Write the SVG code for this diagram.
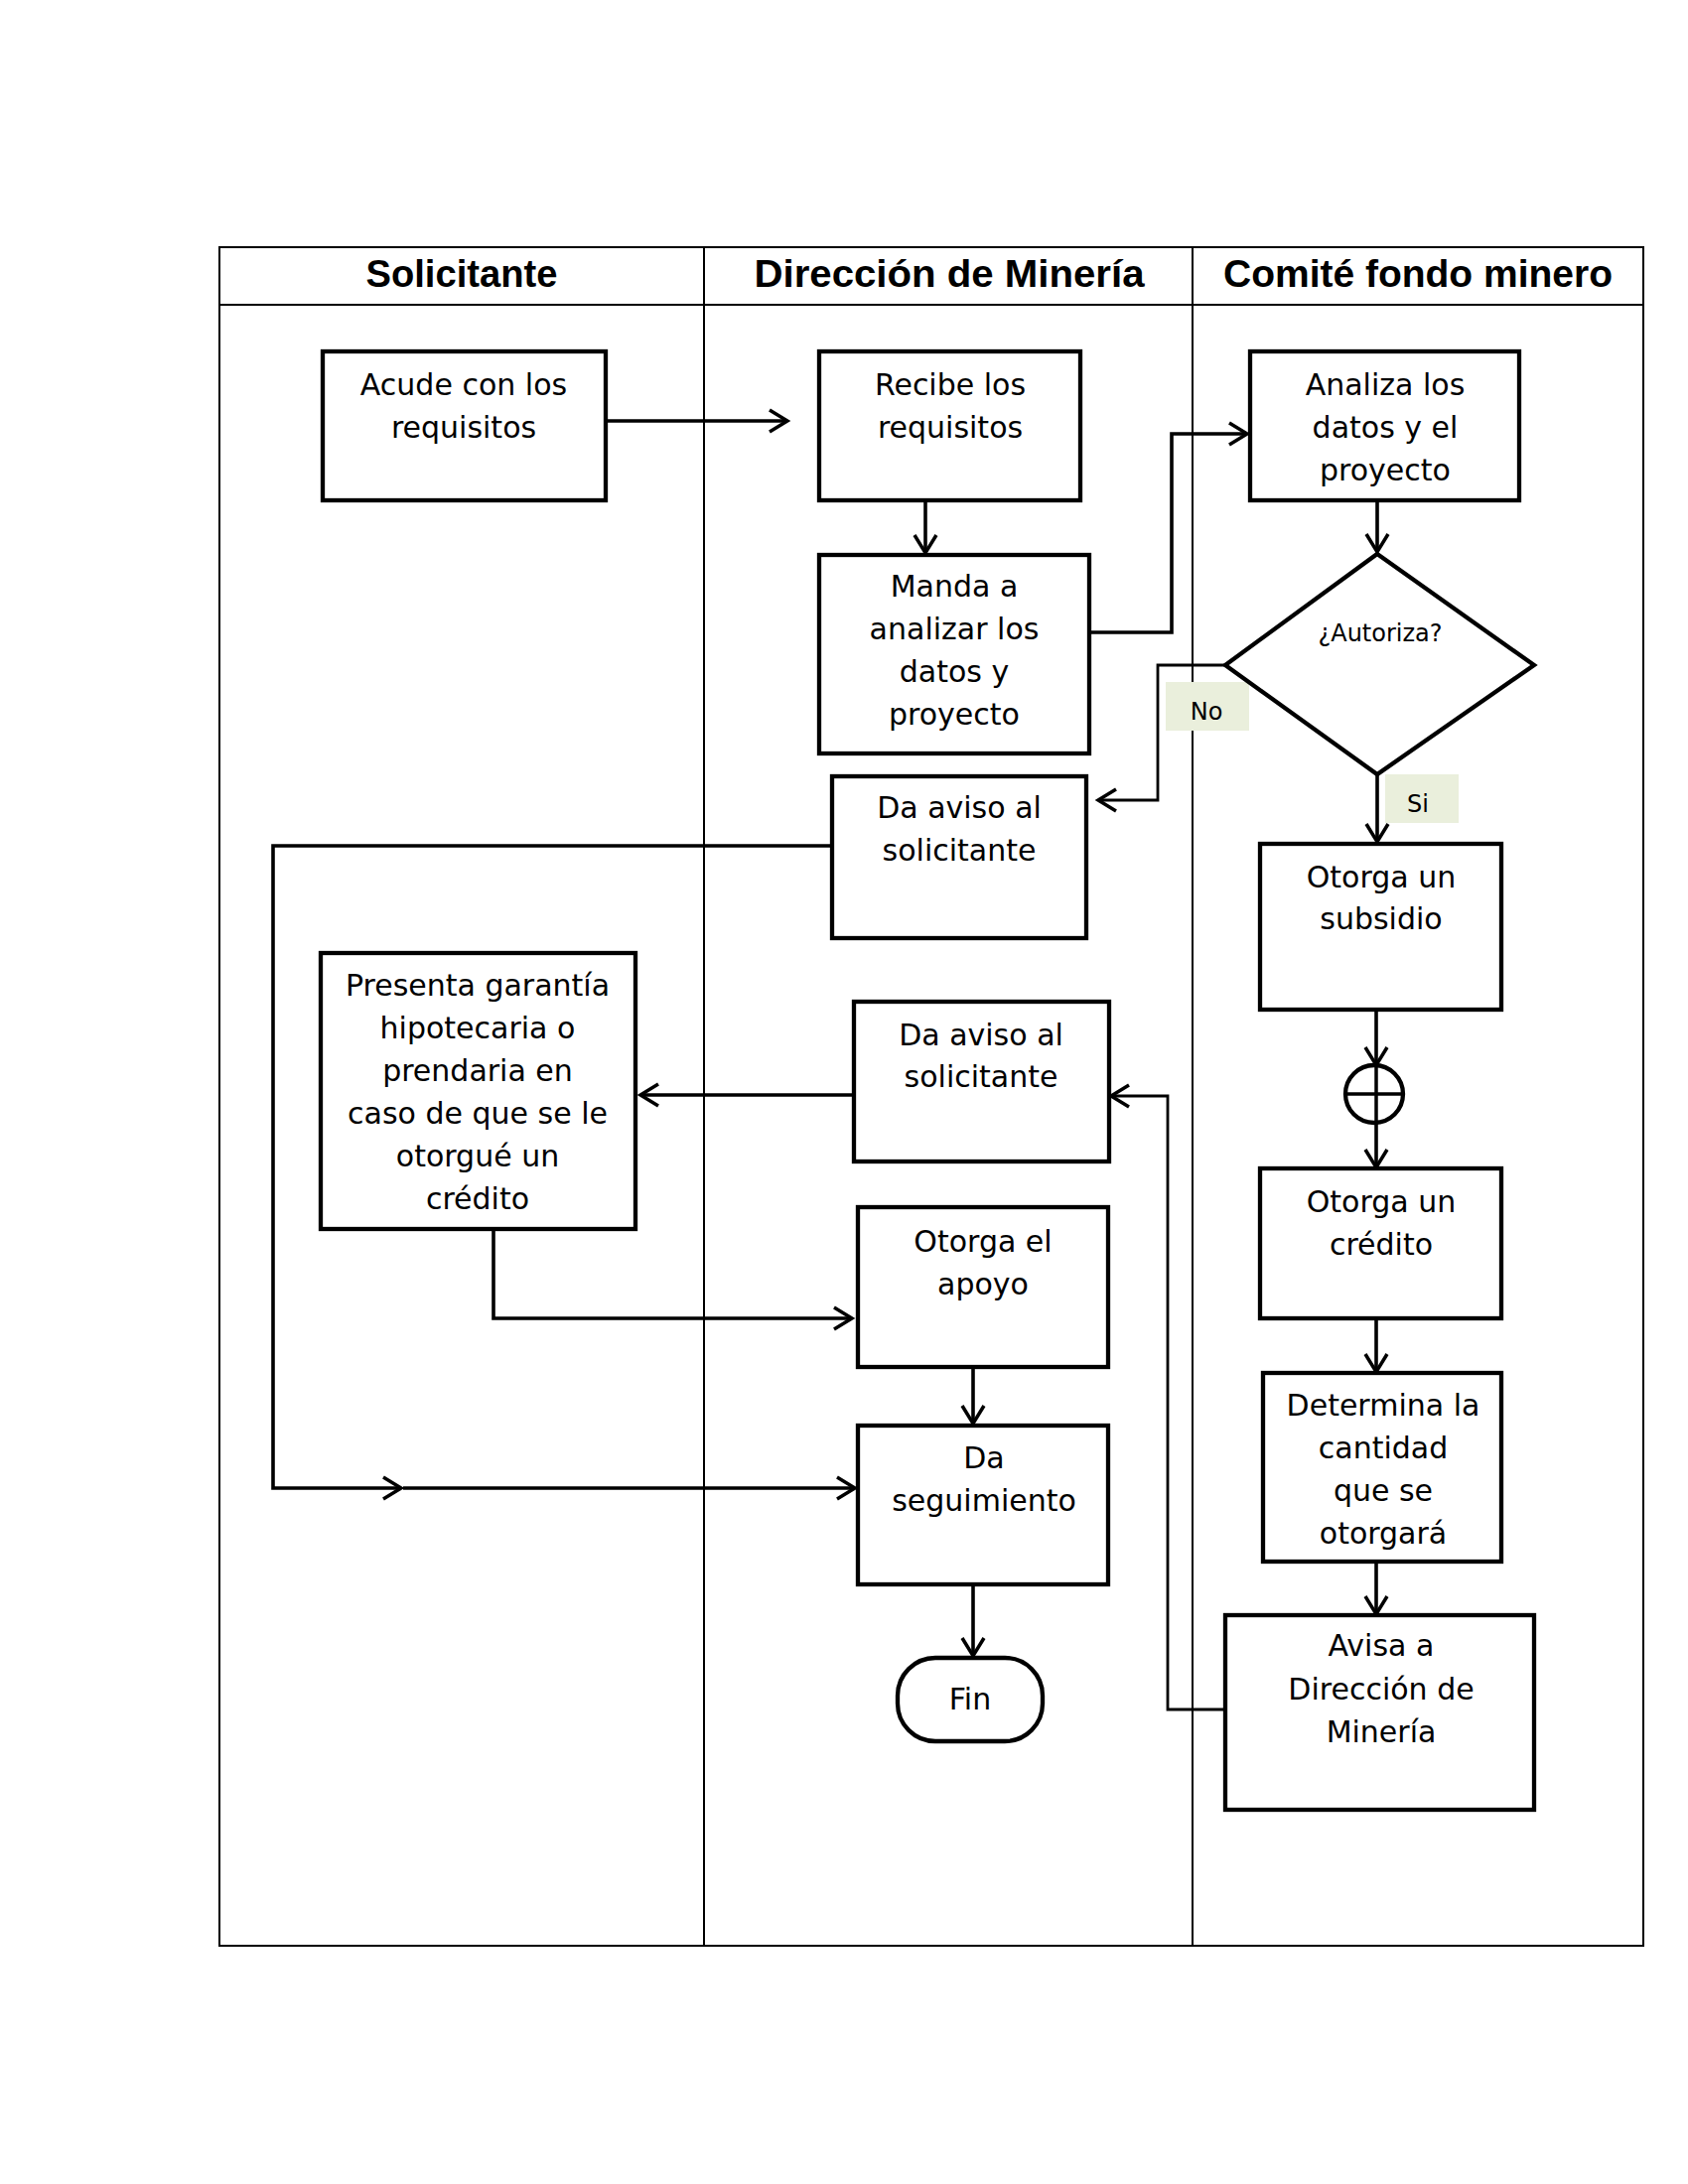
<svg xmlns="http://www.w3.org/2000/svg" width="1700" height="2200" viewBox="0 0 1700 2200">
<style>
.lane{fill:none;stroke:#000;stroke-width:2}
.hdr{font-family:"Liberation Sans",Arial,sans-serif;font-weight:bold;font-size:38px;text-anchor:middle;fill:#000}
.box{fill:#fff;stroke:#000;stroke-width:4.3}
.t{font-family:"DejaVu Sans","Liberation Sans",sans-serif;font-size:30px;text-anchor:middle;fill:#000}
.ts{font-family:"DejaVu Sans","Liberation Sans",sans-serif;font-size:24px;text-anchor:middle;fill:#000}
.c{fill:none;stroke:#000;stroke-width:3.6}
.cn{fill:none;stroke:#000;stroke-width:2.8}
.lbl{fill:#EAEFDC;stroke:none}
</style>
<defs>
<marker id="ah" viewBox="-22 -14 26 28" refX="0" refY="0" markerWidth="26" markerHeight="28" markerUnits="userSpaceOnUse" orient="auto" overflow="visible">
<path d="M-18,-11 L0,0 L-18,11" fill="none" stroke="#000" stroke-width="3.5"/>
</marker>
</defs>
<rect width="1700" height="2200" fill="#fff"/>
<g id="lanes">
<rect class="lane" x="221" y="249" width="1434" height="1711"/>
<line class="lane" x1="221" y1="307" x2="1655" y2="307"/>
<line class="lane" x1="709" y1="249" x2="709" y2="1960"/>
<line class="lane" x1="1201" y1="249" x2="1201" y2="1960"/>
<text class="hdr" x="465" y="289" textLength="193" lengthAdjust="spacingAndGlyphs">Solicitante</text>
<text class="hdr" x="956" y="289" textLength="393" lengthAdjust="spacingAndGlyphs">Dirección de Minería</text>
<text class="hdr" x="1428" y="289" textLength="392" lengthAdjust="spacingAndGlyphs">Comité fondo minero</text>
</g>
<g id="connectors">
<path class="c" d="M610,424 H793" marker-end="url(#ah)"/>
<path class="c" d="M932,504 V557" marker-end="url(#ah)"/>
<path class="c" d="M1097,637 H1180 V437 H1256" marker-end="url(#ah)"/>
<path class="c" d="M1387,504 V556" marker-end="url(#ah)"/>
<path class="cn" d="M1234,670 H1166 V806 H1106" marker-end="url(#ah)"/>
<path class="c" d="M1387,780 V848" marker-end="url(#ah)"/>
<path class="c" d="M838,852 H275 V1499 H404" marker-end="url(#ah)"/>
<path class="c" d="M406,1499 H861" marker-end="url(#ah)"/>
<path class="c" d="M497,1238 V1328 H858" marker-end="url(#ah)"/>
<path class="c" d="M980,1377 V1434" marker-end="url(#ah)"/>
<path class="c" d="M980,1596 V1668" marker-end="url(#ah)"/>
<path class="c" d="M1386,1017 V1073" marker-end="url(#ah)"/>
<path class="c" d="M1386,1131 V1176" marker-end="url(#ah)"/>
<path class="c" d="M1386,1328 V1382" marker-end="url(#ah)"/>
<path class="c" d="M1386,1573 V1626" marker-end="url(#ah)"/>
<path class="cn" d="M1233,1722 H1176 V1104 H1119" marker-end="url(#ah)"/>
<path class="c" d="M864,1103 H645" marker-end="url(#ah)"/>
</g>
<g id="lbl-no">
<rect class="lbl" x="1174" y="687" width="84" height="49"/>
<text class="ts" x="1215" y="725" font-size="25">No</text>
</g>
<g id="lbl-si">
<rect class="lbl" x="1395" y="780" width="74" height="49"/>
<text class="ts" x="1428" y="818" font-size="25">Si</text>
</g>
<g id="n-acude">
<rect class="box" x="325" y="354" width="285" height="150"/>
<text class="t" x="467" y="398">Acude con los</text>
<text class="t" x="467" y="441">requisitos</text>
</g>
<g id="n-recibe">
<rect class="box" x="825" y="354" width="263" height="150"/>
<text class="t" x="957" y="398">Recibe los</text>
<text class="t" x="957" y="441">requisitos</text>
</g>
<g id="n-analiza">
<rect class="box" x="1259" y="354" width="271" height="150"/>
<text class="t" x="1395" y="398">Analiza los</text>
<text class="t" x="1395" y="441">datos y el</text>
<text class="t" x="1395" y="484">proyecto</text>
</g>
<g id="n-manda">
<rect class="box" x="825" y="559" width="272" height="200"/>
<text class="t" x="961" y="601">Manda a</text>
<text class="t" x="961" y="644">analizar los</text>
<text class="t" x="961" y="687">datos y</text>
<text class="t" x="961" y="730">proyecto</text>
</g>
<g id="n-autoriza">
<polygon points="1387,558 1545,670 1387,780 1234,670" fill="#fff" stroke="#000" stroke-width="4.3"/>
<text class="ts" x="1390" y="646">¿Autoriza?</text>
</g>
<g id="n-aviso1">
<rect class="box" x="838" y="782" width="256" height="163"/>
<text class="t" x="966" y="824">Da aviso al</text>
<text class="t" x="966" y="867">solicitante</text>
</g>
<g id="n-subsidio">
<rect class="box" x="1269" y="850" width="243" height="167"/>
<text class="t" x="1391" y="894">Otorga un</text>
<text class="t" x="1391" y="936">subsidio</text>
</g>
<g id="n-or">
<circle cx="1384" cy="1102" r="29" fill="#fff" stroke="#000" stroke-width="4.3"/>
<line x1="1355" y1="1102" x2="1413" y2="1102" stroke="#000" stroke-width="3.5"/>
<line x1="1386" y1="1073" x2="1386" y2="1131" stroke="#000" stroke-width="3.5"/>
</g>
<g id="n-presenta">
<rect class="box" x="323" y="960" width="317" height="278"/>
<text class="t" x="481" y="1003">Presenta garantía</text>
<text class="t" x="481" y="1046">hipotecaria o</text>
<text class="t" x="481" y="1089">prendaria en</text>
<text class="t" x="481" y="1132">caso de que se le</text>
<text class="t" x="481" y="1175">otorgué un</text>
<text class="t" x="481" y="1218">crédito</text>
</g>
<g id="n-aviso2">
<rect class="box" x="860" y="1009" width="257" height="161"/>
<text class="t" x="988" y="1053">Da aviso al</text>
<text class="t" x="988" y="1095">solicitante</text>
</g>
<g id="n-credito">
<rect class="box" x="1269" y="1177" width="243" height="151"/>
<text class="t" x="1391" y="1221">Otorga un</text>
<text class="t" x="1391" y="1264">crédito</text>
</g>
<g id="n-apoyo">
<rect class="box" x="864" y="1216" width="252" height="161"/>
<text class="t" x="990" y="1261">Otorga el</text>
<text class="t" x="990" y="1304">apoyo</text>
</g>
<g id="n-determina">
<rect class="box" x="1272" y="1383" width="240" height="190"/>
<text class="t" x="1393" y="1426">Determina la</text>
<text class="t" x="1393" y="1469">cantidad</text>
<text class="t" x="1393" y="1512">que se</text>
<text class="t" x="1393" y="1555">otorgará</text>
</g>
<g id="n-seguimiento">
<rect class="box" x="864" y="1436" width="252" height="160"/>
<text class="t" x="991" y="1479">Da</text>
<text class="t" x="991" y="1522">seguimiento</text>
</g>
<g id="n-avisa">
<rect class="box" x="1234" y="1627" width="311" height="196"/>
<text class="t" x="1391" y="1668">Avisa a</text>
<text class="t" x="1391" y="1712">Dirección de</text>
<text class="t" x="1391" y="1755">Minería</text>
</g>
<g id="n-fin">
<rect class="box" x="904" y="1670" width="146" height="84" rx="38" ry="38"/>
<text class="t" x="977" y="1722">Fin</text>
</g>
</svg>
